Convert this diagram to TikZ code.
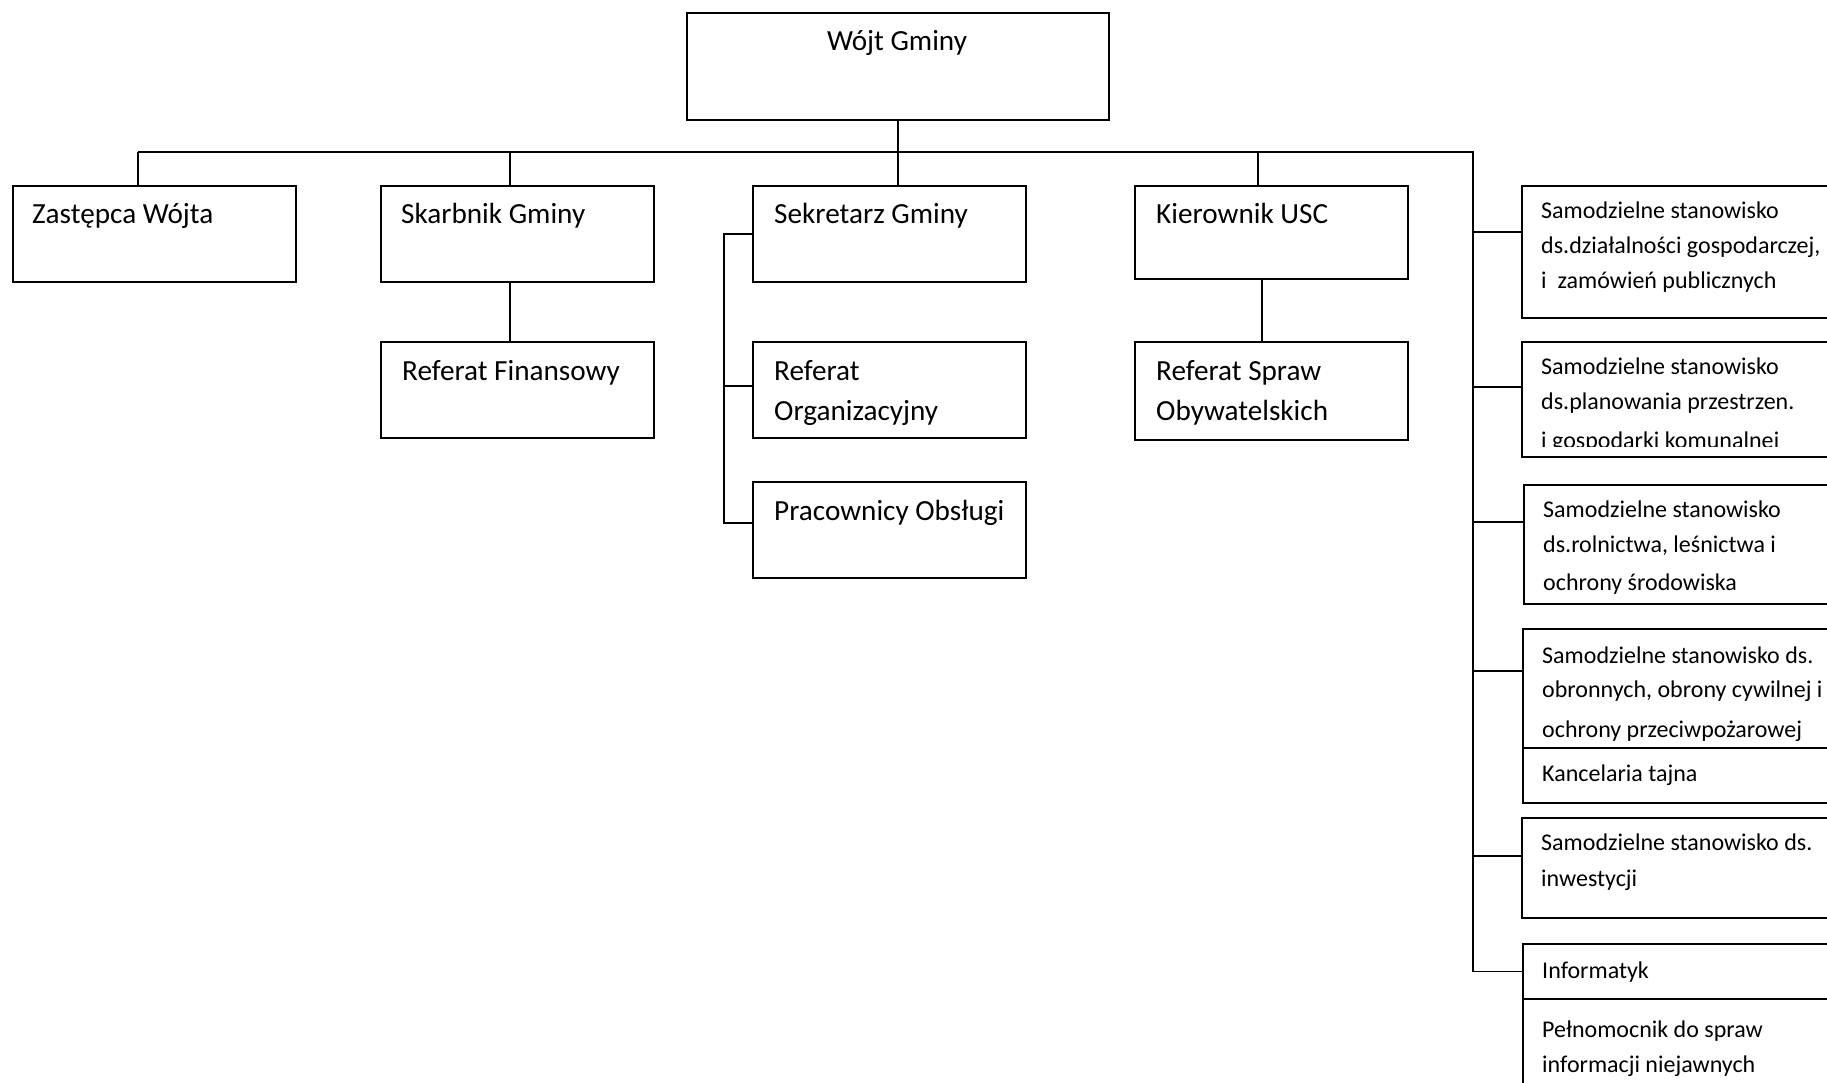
\documentclass[tikz,border=0pt]{standalone}
\usepackage{fontspec}
\setmainfont{Carlito}
\newcommand\mylines[2]{\vtop{\baselineskip=#1\lineskiplimit=-100pt\lineskip=0pt #2}}
\tikzset{
  box/.style={draw, line width=2pt, rectangle, inner sep=0pt, anchor=north west},
  conn/.style={line width=1.7pt},
  big/.style={font=\fontsize{29.2}{34}\selectfont, inner sep=0pt, anchor=base west},
  small/.style={font=\fontsize{24}{28}\selectfont, inner sep=0pt, anchor=base west},
}
\begin{document}
\begin{tikzpicture}[x=1pt,y=-1pt]
\useasboundingbox (0,0) rectangle (1827,1082);
\clip (0,0) rectangle (1827,1082);
\fill[white] (0,0) rectangle (1827,1082);

% boxes
\node[box, minimum width=422pt, minimum height=107pt] (wojt) at (686,12) {};
\node[box, minimum width=283pt, minimum height=96pt] (zast) at (12,185) {};
\node[box, minimum width=273pt, minimum height=96pt] (skarb) at (380,185) {};
\node[box, minimum width=273pt, minimum height=96pt] (sek) at (752,185) {};
\node[box, minimum width=273pt, minimum height=93pt] (kier) at (1134,185) {};
\node[box, minimum width=273pt, minimum height=96pt] (reffin) at (380,341) {};
\node[box, minimum width=273pt, minimum height=96pt] (reforg) at (752,341) {};
\node[box, minimum width=273pt, minimum height=98pt] (refspr) at (1134,341) {};
\node[box, minimum width=273pt, minimum height=96pt] (prac) at (752,481) {};
\node[box, minimum width=320pt, minimum height=132pt] (s1) at (1521,185) {};
\node[box, minimum width=320pt, minimum height=115pt] (s2) at (1521,341) {};
\node[box, minimum width=320pt, minimum height=119pt] (s3) at (1523,484) {};
\node[box, minimum width=320pt, minimum height=119pt] (s4) at (1522,628) {};
\node[box, minimum width=320pt, minimum height=55pt] (kanc) at (1522,747) {};
\node[box, minimum width=320pt, minimum height=100pt] (s5) at (1521,817) {};
\node[box, minimum width=320pt, minimum height=55pt] (inf) at (1522,943) {};
\node[box, minimum width=320pt, minimum height=100pt] (peln) at (1522,998) {};

% texts
\node[big, anchor=base] (t-wojt) at (897,50) {Wójt Gminy};
\node[big] (t-zast) at (32,223) {Zastępca Wójta};
\node[big] (t-skarb) at (401,223) {Skarbnik Gminy};
\node[big] (t-sek) at (774,223) {Sekretarz Gminy};
\node[big] (t-kier) at (1156,223) {Kierownik USC};
\node[big] (t-reffin) at (402,380) {Referat Finansowy};
\node[big] (t-reforg) at (774,380) {\mylines{40pt}{\hbox{Referat}\hbox{Organizacyjny}}};
\node[big] (t-refspr) at (1156,380) {\mylines{40pt}{\hbox{Referat Spraw}\hbox{Obywatelskich}}};
\node[big] (t-prac) at (774,520) {Pracownicy Obsługi};

\node[small] (t-s1) at (1541,218) {\mylines{35pt}{\hbox{Samodzielne stanowisko}\hbox{ds.działalności gospodarczej,}\hbox{i\ \ zamówień publicznych}}};
\begin{scope}
\clip (1521,341) rectangle (1827,446);
\node[small] (t-s2) at (1541,374) {\mylines{35pt}{\hbox{Samodzielne stanowisko}\hbox{ds.planowania przestrzen.}\vskip4pt\hbox{i gospodarki komunalnej}}};
\end{scope}
\node[small] (t-s3) at (1543,517) {\mylines{35pt}{\hbox{Samodzielne stanowisko}\hbox{ds.rolnictwa, leśnictwa i}\vskip3pt\hbox{ochrony środowiska}}};
\node[small] (t-s4) at (1542,663) {\mylines{34pt}{\hbox{Samodzielne stanowisko ds.}\hbox{obronnych, obrony cywilnej i}\vskip6pt\hbox{ochrony przeciwpożarowej}}};
\node[small] (t-kanc) at (1542,781) {Kancelaria tajna};
\node[small] (t-s5) at (1541,850) {\mylines{36pt}{\hbox{Samodzielne stanowisko ds.}\hbox{inwestycji}}};
\node[small] (t-inf) at (1542,978) {Informatyk};
\node[small] (t-peln) at (1542,1037) {\mylines{35pt}{\hbox{Pełnomocnik do spraw}\hbox{informacji niejawnych}}};

% connectors
\coordinate (b1) at (138,152);
\coordinate (b2) at (510,152);
\coordinate (b4) at (1258,152);
\coordinate (bR) at (1473,152);
\coordinate (k) at (1262,300);
\coordinate (sb1) at (724,386);
\coordinate (sb2) at (724,523);
\coordinate (r1) at (1473,232);
\coordinate (r2) at (1473,387);
\coordinate (r3) at (1473,522);
\coordinate (r4) at (1473,671);
\coordinate (r5) at (1473,856);

\draw[conn] (wojt.south) -- (sek.north -| wojt.south);
\draw[conn] (b1) -- (bR) -- (bR |- inf.west) -- (inf.west);
\draw[conn] (b1) -- (b1 |- zast.north);
\draw[conn] (b2) -- (b2 |- skarb.north);
\draw[conn] (b4) -- (b4 |- kier.north);
\draw[conn] (b2 |- skarb.south) -- (b2 |- reffin.north);
\draw[conn] (k |- kier.south) -- (k |- refspr.north);
\draw[conn] (sek.west) -| (sb2) -- (sb2 -| prac.west);
\draw[conn] (sb1) -- (sb1 -| reforg.west);
\draw[conn] (r1) -- (r1 -| s1.west);
\draw[conn] (r2) -- (r2 -| s2.west);
\draw[conn] (r3) -- (r3 -| s3.west);
\draw[conn] (r4) -- (r4 -| s4.west);
\draw[conn] (r5) -- (r5 -| s5.west);
\end{tikzpicture}
\end{document}
